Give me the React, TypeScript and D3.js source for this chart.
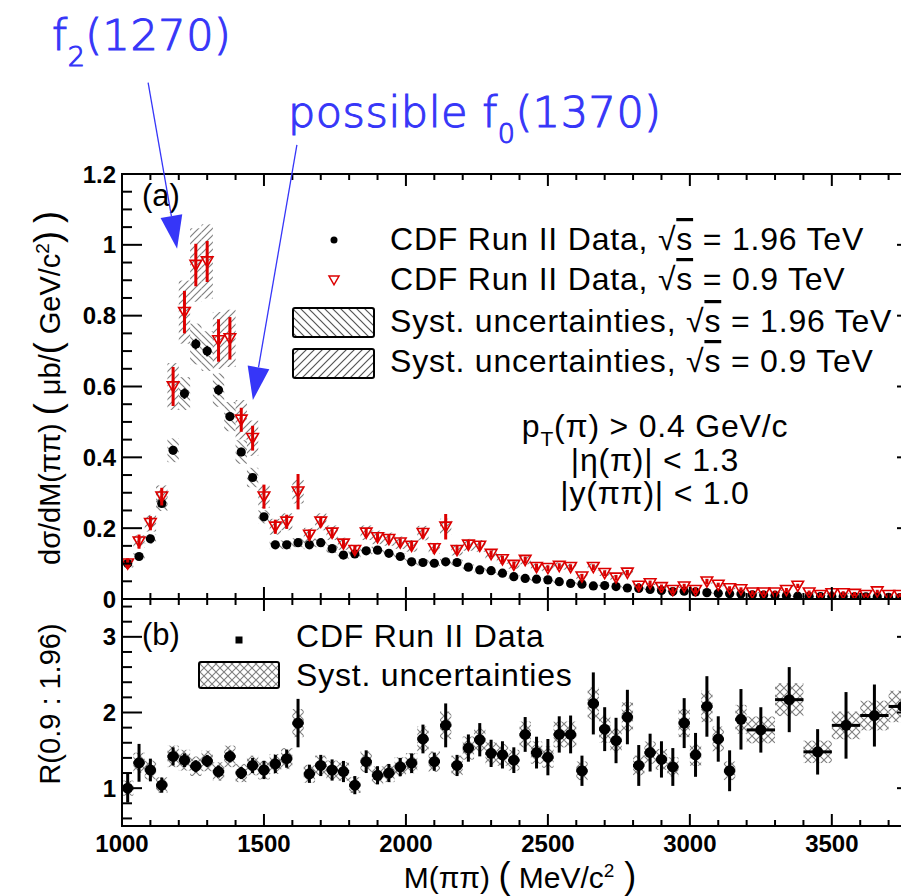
import React, { useEffect } from 'react';
import * as d3 from 'd3';

// ---------- data ----------
const MASS = [1020,1060,1100,1140,1180,1220,1260,1300,1340,1380,1420,1460,1500,
  1540,1580,1620,1660,1700,1740,1780,1820,1860,1900,1940,1980,2020,
  2060,2100,2140,2180,2220,2260,2300,2340,2380,2420,2460,2500,2540,
  2580,2620,2660,2700,2740,2780,2820,2860,2900,2940,2980,3020,3060,
  3100,3140,3180,3220,3260,3300,3340,3380,3420,3460,3500,3540,3580,
  3620,3660,3700,3740];
const BIN_HALF = 20;

const XS_196 = [0.100,0.120,0.170,0.270,0.420,0.580,0.720,0.700,0.590,0.515,0.415,0.343,0.232,
  0.153,0.153,0.159,0.153,0.159,0.142,0.124,0.127,0.136,0.138,0.129,0.120,0.105,
  0.103,0.101,0.105,0.103,0.090,0.082,0.080,0.073,0.063,0.058,0.056,0.054,0.049,
  0.044,0.042,0.037,0.038,0.035,0.031,0.030,0.027,0.024,0.021,0.022,0.020,0.018,
  0.016,0.015,0.014,0.012,0.011,0.010,0.009,0.008,0.007,0.007,0.007,0.007,0.006,
  0.006,0.006,0.005,0.004];
const ERR_196 = [0.006,0.006,0.008,0.010,0.012,0.015,0.015,0.015,0.015,0.012,0.012,0.010,0.008,
  0.006,0.006,0.006,0.006,0.006,0.006,0.005,0.005,0.005,0.005,0.005,0.005,0.005,
  0.004,0.004,0.004,0.004,0.004,0.004,0.004,0.004,0.004,0.004,0.004,0.004,0.004,
  0.003,0.003,0.003,0.003,0.003,0.003,0.003,0.003,0.003,0.003,0.003,0.003,0.003,
  0.002,0.002,0.002,0.002,0.002,0.002,0.002,0.002,0.002,0.002,0.002,0.002,0.002,
  0.002,0.002,0.002,0.002];
const XS_09 = [0.100,0.162,0.214,0.289,0.600,0.810,0.943,0.953,0.730,0.736,0.506,0.454,0.289,
  0.204,0.218,0.303,0.181,0.218,0.187,0.156,0.138,0.187,0.174,0.169,0.159,0.150,
  0.186,0.143,0.204,0.138,0.153,0.150,0.127,0.112,0.096,0.110,0.090,0.087,0.093,
  0.090,0.063,0.090,0.073,0.060,0.074,0.037,0.044,0.033,0.025,0.035,0.025,0.049,
  0.040,0.030,0.027,0.018,0.018,0.018,0.025,0.037,0.018,0.011,0.016,0.016,0.014,
  0.011,0.021,0.011,0.011];
const ERR_09 = [0.015,0.020,0.020,0.025,0.055,0.060,0.060,0.058,0.060,0.060,0.034,0.035,0.034,
  0.020,0.020,0.050,0.015,0.015,0.015,0.012,0.012,0.012,0.012,0.012,0.012,0.012,
  0.015,0.012,0.036,0.012,0.012,0.012,0.010,0.010,0.010,0.010,0.010,0.008,0.008,
  0.008,0.008,0.008,0.008,0.008,0.008,0.008,0.008,0.008,0.008,0.008,0.008,0.008,
  0.006,0.006,0.006,0.006,0.006,0.006,0.006,0.006,0.006,0.006,0.006,0.006,0.006,
  0.005,0.005,0.005,0.005];
const SYST_REL_196 = 0.08;
const SYST_REL_09 = 0.11;

// ratio panel
const R_MASS = [1020,1060,1100,1140,1180,1220,1260,1300,1340,1380,1420,1460,1500,
  1540,1580,1620,1660,1700,1740,1780,1820,1860,1900,1940,1980,2020,
  2060,2100,2140,2180,2220,2260,2300,2340,2380,2420,2460,2500,2540,
  2580,2620,2660,2700,2740,2780,2820,2860,2900,2940,2980,3020,3060,
  3100,3140,3180,
  3250,3350,3450,3550,3650,3750];
const R_WIDE = [3250,3350,3450,3550,3650,3750];
const R_WIDE_HALF = 50;
const R_VAL = [1.00,1.335,1.24,1.04,1.42,1.37,1.29,1.36,1.22,1.42,1.20,1.30,1.24,
  1.32,1.39,1.86,1.19,1.30,1.24,1.22,1.04,1.35,1.17,1.20,1.28,1.33,
  1.65,1.35,1.83,1.30,1.53,1.64,1.46,1.44,1.37,1.71,1.47,1.41,1.71,
  1.71,1.23,2.12,1.78,1.63,1.94,1.30,1.47,1.38,1.28,1.86,1.44,2.08,
  1.65,1.23,1.91,
  1.77,2.17,1.48,1.83,1.96,2.08];
const R_ERR = [0.19,0.25,0.15,0.10,0.12,0.09,0.08,0.08,0.08,0.08,0.08,0.10,0.12,
  0.12,0.12,0.32,0.12,0.14,0.14,0.14,0.12,0.15,0.12,0.12,0.12,0.13,
  0.19,0.12,0.29,0.14,0.18,0.22,0.18,0.18,0.17,0.23,0.21,0.24,0.24,
  0.25,0.20,0.41,0.29,0.30,0.36,0.27,0.25,0.24,0.25,0.33,0.29,0.40,
  0.30,0.27,0.40,
  0.30,0.43,0.30,0.44,0.41,0.40];
const SYST_REL_R = 0.10;

const X_MAJOR = [1000,1500,2000,2500,3000,3500];
const Y_TOP_LABELS = ['0','0.2','0.4','0.6','0.8','1','1.2'];
const Y_TOP_MAJOR = [0,0.2,0.4,0.6,0.8,1.0,1.2];
const Y_BOT_MAJOR = [1,2,3];

// annotations in data coordinates of panel (a)
const ANNOT = [
  { label: 'f', sub: '2', rest: '(1270)', from: [1092, 1.458], to: [1194, 0.989], textAt: [52, 50] },
  { label: 'possible f', sub: '0', rest: '(1370)', from: [1616, 1.282], to: [1461, 0.562], textAt: [288, 127] },
];

// ---------- layout ----------
const W = 901, H = 896;
const L = 122, R = 917;
const TOP = 174, MID = 599, BOT = 826;
const FONT = 'Liberation Sans, Arial, Helvetica, sans-serif';
const RED = '#dd0000';
const BLUE = '#3636f8';
const HATCH = '#808080';
const LEG_FS = 32;
const LEG_LS = 0.8;

const x = d3.scaleLinear().domain([1000, 3800]).range([L, R]);
const yT = d3.scaleLinear().domain([0, 1.2]).range([MID, TOP]);
const yB = d3.scaleLinear().domain([0.5, 3.5]).range([BOT, MID]);

const SqrtS = () => (
  <>
    <tspan>√</tspan>
    <tspan style={{ textDecoration: 'overline' }}>s</tspan>
  </>
);

export default function App() {
  useEffect(() => {
    document.body.style.margin = '0';
  }, []);

  const xMinor = d3.range(1000, 3801, 100);
  const yTopMinor = d3.range(0, 1.2001, 0.05);
  const yBotMinor = d3.range(0.6, 3.4001, 0.2);

  const tickLines: JSX.Element[] = [];
  yTopMinor.forEach((v, i) => {
    const major = Y_TOP_MAJOR.some(m => Math.abs(m - v) < 1e-6);
    const len = major ? 20 : 10;
    tickLines.push(<line key={`al${i}`} x1={L} x2={L + len} y1={yT(v)} y2={yT(v)} />);
    tickLines.push(<line key={`ar${i}`} x1={R} x2={R - len} y1={yT(v)} y2={yT(v)} />);
  });
  yBotMinor.forEach((v, i) => {
    const major = Y_BOT_MAJOR.some(m => Math.abs(m - v) < 1e-6);
    const len = major ? 20 : 10;
    tickLines.push(<line key={`bl${i}`} x1={L} x2={L + len} y1={yB(v)} y2={yB(v)} />);
    tickLines.push(<line key={`br${i}`} x1={R} x2={R - len} y1={yB(v)} y2={yB(v)} />);
  });
  xMinor.forEach((m, i) => {
    const major = m % 500 === 0;
    const len = major ? 12 : 6;
    const px = x(m);
    tickLines.push(<line key={`xt${i}`} x1={px} x2={px} y1={TOP} y2={TOP + len} />);
    tickLines.push(<line key={`xm1${i}`} x1={px} x2={px} y1={MID} y2={MID - len} />);
    tickLines.push(<line key={`xm2${i}`} x1={px} x2={px} y1={MID} y2={MID + len} />);
    tickLines.push(<line key={`xb${i}`} x1={px} x2={px} y1={BOT} y2={BOT - len} />);
  });

  const tri = (cx: number, cy: number, s: number) =>
    `M${cx - s},${cy - s * 0.8}L${cx + s},${cy - s * 0.8}L${cx},${cy + s * 0.95}Z`;

  const arrowEls = ANNOT.map((a, i) => {
    const x0 = x(a.from[0]), y0 = yT(a.from[1]);
    const x1 = x(a.to[0]), y1 = yT(a.to[1]);
    const dx = x1 - x0, dy = y1 - y0;
    const len = Math.hypot(dx, dy);
    const ux = dx / len, uy = dy / len;
    const hl = 33, hw = 11;
    const bx = x1 - ux * hl, by = y1 - uy * hl;
    const px = -uy, py = ux;
    return (
      <g key={`ann${i}`}>
        <line x1={x0} y1={y0} x2={bx} y2={by} stroke={BLUE} strokeWidth={1.3} />
        <path d={`M${x1},${y1}L${bx + px * hw},${by + py * hw}L${bx - px * hw},${by - py * hw}Z`} fill={BLUE} />
        <text x={a.textAt[0]} y={a.textAt[1]} fill={BLUE} stroke={BLUE} strokeWidth={1.1}
          fontFamily="DejaVu Sans, sans-serif" fontWeight={200} fontSize={43} letterSpacing={0.5}>
          {a.label}
          <tspan dy={16} fontSize={27}>{a.sub}</tspan>
          <tspan dy={-16}>{a.rest}</tspan>
        </text>
      </g>
    );
  });

  return (
    <svg width={W} height={H} viewBox={`0 0 ${W} ${H}`} style={{ position: 'absolute', left: 0, top: 0, background: '#fff' }}
      fontFamily={FONT}>
      <defs>
        <pattern id="hatchBack" patternUnits="userSpaceOnUse" width={7} height={7}>
          <path d="M0,0L7,7M-1,6L1,8M6,-1L8,1" stroke={HATCH} strokeWidth={1.2} />
        </pattern>
        <pattern id="hatchFwd" patternUnits="userSpaceOnUse" width={7} height={7}>
          <path d="M0,7L7,0M-1,1L1,-1M6,8L8,6" stroke={HATCH} strokeWidth={1.2} />
        </pattern>
        <pattern id="cross" patternUnits="userSpaceOnUse" width={8} height={8}>
          <path d="M0,0L8,8M0,8L8,0" stroke={HATCH} strokeWidth={1.1} />
        </pattern>
        <pattern id="hatchBackL" patternUnits="userSpaceOnUse" width={8} height={8}>
          <path d="M0,0L8,8M-1,7L1,9M7,-1L9,1" stroke="#555" strokeWidth={1.2} />
        </pattern>
        <pattern id="hatchFwdL" patternUnits="userSpaceOnUse" width={8} height={8}>
          <path d="M0,8L8,0M-1,1L1,-1M7,9L9,7" stroke="#555" strokeWidth={1.2} />
        </pattern>
        <clipPath id="clipA"><rect x={L} y={TOP} width={R - L} height={MID - TOP} /></clipPath>
        <clipPath id="clipB"><rect x={L} y={MID} width={R - L} height={BOT - MID} /></clipPath>
      </defs>
      <rect x={0} y={0} width={W} height={H} fill="#fff" />

      {/* ---------- panel (a) ---------- */}
      <g clipPath="url(#clipA)">
        {MASS.map((m, i) => (
          <rect key={`sb${i}`} x={x(m - BIN_HALF)} width={x(m + BIN_HALF) - x(m - BIN_HALF)}
            y={yT(XS_196[i] * (1 + SYST_REL_196))}
            height={yT(XS_196[i] * (1 - SYST_REL_196)) - yT(XS_196[i] * (1 + SYST_REL_196))}
            fill="url(#hatchBack)" />
        ))}
        {MASS.map((m, i) => (
          <rect key={`sr${i}`} x={x(m - BIN_HALF)} width={x(m + BIN_HALF) - x(m - BIN_HALF)}
            y={yT(XS_09[i] * (1 + SYST_REL_09))}
            height={yT(XS_09[i] * (1 - SYST_REL_09)) - yT(XS_09[i] * (1 + SYST_REL_09))}
            fill="url(#hatchFwd)" />
        ))}
        {MASS.map((m, i) => (
          <line key={`eb${i}`} x1={x(m)} x2={x(m)} y1={yT(XS_196[i] - ERR_196[i])} y2={yT(XS_196[i] + ERR_196[i])}
            stroke="#000" strokeWidth={2} />
        ))}
        {MASS.map((m, i) => (
          <circle key={`mb${i}`} cx={x(m)} cy={yT(XS_196[i])} r={4.6} fill="#000" />
        ))}
        {MASS.map((m, i) => (
          <line key={`er${i}`} x1={x(m)} x2={x(m)} y1={yT(XS_09[i] - ERR_09[i])} y2={yT(XS_09[i] + ERR_09[i])}
            stroke={RED} strokeWidth={3} />
        ))}
        {MASS.map((m, i) => (
          <path key={`mr${i}`} d={tri(x(m), yT(XS_09[i]), 5.8)} fill="none" stroke={RED} strokeWidth={1.6} />
        ))}
      </g>

      {/* ---------- panel (b) ---------- */}
      <g clipPath="url(#clipB)">
        {R_MASS.map((m, i) => {
          const h = R_WIDE.includes(m) ? R_WIDE_HALF : BIN_HALF;
          const v = R_VAL[i];
          return (
            <rect key={`rs${i}`} x={x(m - h)} width={x(m + h) - x(m - h)}
              y={yB(v * (1 + SYST_REL_R))} height={yB(v * (1 - SYST_REL_R)) - yB(v * (1 + SYST_REL_R))}
              fill="url(#cross)" />
          );
        })}
        {R_MASS.map((m, i) => {
          const h = R_WIDE.includes(m) ? R_WIDE_HALF : BIN_HALF;
          const v = R_VAL[i];
          return (
            <g key={`re${i}`} stroke="#000" strokeWidth={3}>
              <line x1={x(m)} x2={x(m)} y1={yB(v - R_ERR[i])} y2={yB(v + R_ERR[i])} />
              <line x1={x(m - h)} x2={x(m + h)} y1={yB(v)} y2={yB(v)} />
            </g>
          );
        })}
        {R_MASS.map((m, i) => (
          <circle key={`rm${i}`} cx={x(m)} cy={yB(R_VAL[i])} r={5.5} fill="#000" />
        ))}
      </g>

      {/* ---------- frames and ticks ---------- */}
      <g stroke="#000" strokeWidth={2}>{tickLines}</g>
      <rect x={L} y={TOP} width={R - L} height={MID - TOP} fill="none" stroke="#000" strokeWidth={2} />
      <rect x={L} y={MID} width={R - L} height={BOT - MID} fill="none" stroke="#000" strokeWidth={2} />

      {/* tick labels */}
      <g fontWeight="bold" fontSize={24} fill="#000">
        {Y_TOP_MAJOR.map((v, i) => (
          <text key={`ytl${i}`} x={116} y={yT(v)} textAnchor="end" dominantBaseline="central">{Y_TOP_LABELS[i]}</text>
        ))}
        {Y_BOT_MAJOR.map((v, i) => (
          <text key={`ybl${i}`} x={116} y={yB(v)} textAnchor="end" dominantBaseline="central">{String(v)}</text>
        ))}
        {X_MAJOR.map((m, i) => (
          <text key={`xl${i}`} x={x(m)} y={852} textAnchor="middle">{String(m)}</text>
        ))}
      </g>

      {/* axis titles */}
      <text transform={`translate(60,388) rotate(-90)`} textAnchor="middle" fontSize={29} fill="#000">
        dσ/dM(ππ) <tspan fontSize={36}>(</tspan> μb/<tspan fontSize={36}>(</tspan> GeV/c<tspan dy={-11} fontSize={19}>2</tspan><tspan dy={11} fontSize={36}>)</tspan> <tspan fontSize={36}>)</tspan>
      </text>
      <text transform={`translate(60,704) rotate(-90)`} textAnchor="middle" fontSize={29} fill="#000">
        R(0.9 : 1.96)
      </text>
      <text x={520} y={888} textAnchor="middle" fontSize={30} fill="#000">
        M(ππ) <tspan fontSize={36}>(</tspan> MeV/c<tspan dy={-11} fontSize={19}>2</tspan><tspan dy={11} fontSize={36}> )</tspan>
      </text>

      {/* panel labels */}
      <text x={142} y={206} fontSize={31} fill="#000">(a)</text>
      <text x={142} y={645} fontSize={31} fill="#000">(b)</text>

      {/* legend (a) */}
      <g fontSize={LEG_FS} letterSpacing={LEG_LS} fill="#000">
        <circle cx={334} cy={240} r={3.5} fill="#000" />
        <path d={tri(334, 280, 5)} fill="none" stroke={RED} strokeWidth={1.5} />
        <rect x={293} y={308} width={81} height={29} rx={2} fill="url(#hatchBackL)" stroke="#000" strokeWidth={2} />
        <rect x={293} y={349} width={81} height={29} rx={2} fill="url(#hatchFwdL)" stroke="#000" strokeWidth={2} />
        <text x={390} y={250}>CDF Run II Data, <SqrtS /> = 1.96 TeV</text>
        <text x={390} y={290}>CDF Run II Data, <SqrtS /> = 0.9 TeV</text>
        <text x={390} y={332}>Syst. uncertainties, <SqrtS /> = 1.96 TeV</text>
        <text x={390} y={372}>Syst. uncertainties, <SqrtS /> = 0.9 TeV</text>
      </g>

      {/* cuts */}
      <g fontSize={LEG_FS} letterSpacing={LEG_LS} fill="#000" textAnchor="middle">
        <text x={655} y={437}>p<tspan dy={9} fontSize={21}>T</tspan><tspan dy={-9}>(π) &gt; 0.4 GeV/c</tspan></text>
        <text x={655} y={471}>|η(π)| &lt; 1.3</text>
        <text x={655} y={504}>|y(ππ)| &lt; 1.0</text>
      </g>

      {/* legend (b) */}
      <g fontSize={LEG_FS} letterSpacing={LEG_LS} fill="#000">
        <rect x={235.5} y={636.5} width={7} height={7} fill="#000" />
        <rect x={199} y={662} width={80} height={26} rx={2} fill="url(#cross)" stroke="#000" strokeWidth={2} />
        <text x={296} y={647}>CDF Run II Data</text>
        <text x={296} y={686}>Syst. uncertainties</text>
      </g>

      {/* annotations */}
      {arrowEls}
    </svg>
  );
}
